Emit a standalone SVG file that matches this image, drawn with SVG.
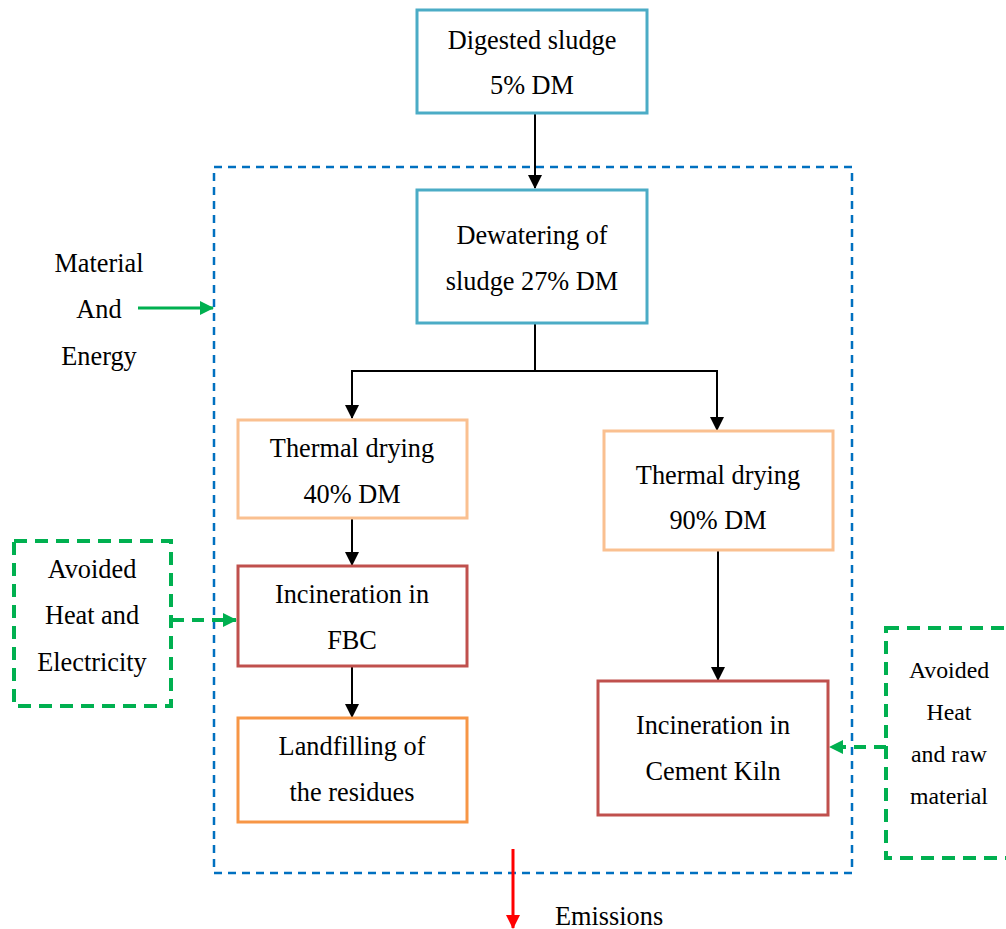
<svg xmlns="http://www.w3.org/2000/svg" width="1006" height="929" viewBox="0 0 1006 929">
  <defs>
    <marker id="ah-black-lg" markerWidth="14" markerHeight="14" refX="13" refY="7" orient="auto" markerUnits="userSpaceOnUse" viewBox="0 0 14 14">
      <path d="M0,0 L14,7 L0,14 z" fill="#000"/>
    </marker>
    <marker id="ah-green" markerWidth="14" markerHeight="14" refX="13" refY="7" orient="auto" markerUnits="userSpaceOnUse" viewBox="0 0 14 14">
      <path d="M0,0 L14,7 L0,14 z" fill="#00B050"/>
    </marker>
    <marker id="ah-red" markerWidth="14" markerHeight="14" refX="13" refY="7" orient="auto" markerUnits="userSpaceOnUse" viewBox="0 0 14 14">
      <path d="M0,0 L14,7 L0,14 z" fill="#FF0000"/>
    </marker>
  </defs>
  <style>
    text { font-family: "Liberation Serif", "Times New Roman", serif; font-size: 26.3px; fill: #000; text-anchor: middle; }
    .small { font-size: 23.8px; }
    .box { fill: #fff; stroke-width: 3; }
    .blue { stroke: #4BACC6; }
    .peach { stroke: #FAC090; }
    .red { stroke: #C0504D; }
    .orange { stroke: #F79646; }
    .green-box { fill: none; stroke: #00B050; stroke-width: 4; stroke-dasharray: 13 8; }
    .boundary { fill: none; stroke: #0070C0; stroke-width: 2.5; stroke-dasharray: 8 6; }
    .flow { fill: none; stroke: #000; stroke-width: 2; }
  </style>
  <rect width="1006" height="929" fill="#fff"/>

  <!-- system boundary -->
  <rect id="boundary" class="boundary" x="214" y="167" width="638" height="706"/>

  <g id="connectors">
    <line class="flow" x1="535" y1="114" x2="535" y2="188" marker-end="url(#ah-black-lg)"/>
    <polyline class="flow" points="535,324 535,371 352,371 352,418" marker-end="url(#ah-black-lg)"/>
    <polyline class="flow" points="535,371 717,371 717,430" marker-end="url(#ah-black-lg)"/>
    <line class="flow" x1="352" y1="519" x2="352" y2="565" marker-end="url(#ah-black-lg)"/>
    <line class="flow" x1="352" y1="667" x2="352" y2="717" marker-end="url(#ah-black-lg)"/>
    <line class="flow" x1="718" y1="551" x2="718" y2="680" marker-end="url(#ah-black-lg)"/>
    <line x1="138" y1="308" x2="213" y2="308" stroke="#00B050" stroke-width="3" marker-end="url(#ah-green)"/>
    <line x1="172" y1="620" x2="236" y2="620" stroke="#00B050" stroke-width="4" stroke-dasharray="12 8" marker-end="url(#ah-green)"/>
    <line x1="886" y1="747" x2="830" y2="747" stroke="#00B050" stroke-width="4" stroke-dasharray="12 8" marker-end="url(#ah-green)"/>
    <line x1="513" y1="849" x2="513" y2="928" stroke="#FF0000" stroke-width="3" marker-end="url(#ah-red)"/>
  </g>

  <g id="digested">
    <rect class="box blue" x="417" y="10" width="230" height="103"/>
    <text x="532" y="49">Digested sludge</text>
    <text x="532" y="94">5% DM</text>
  </g>

  <g id="dewatering">
    <rect class="box blue" x="417" y="190" width="230" height="133"/>
    <text x="532" y="244">Dewatering of</text>
    <text x="532" y="290">sludge 27% DM</text>
  </g>

  <g id="drying40">
    <rect class="box peach" x="238" y="420" width="229" height="98"/>
    <text x="352" y="457">Thermal drying</text>
    <text x="352" y="503">40% DM</text>
  </g>

  <g id="drying90">
    <rect class="box peach" x="604" y="431" width="229" height="119"/>
    <text x="718" y="484">Thermal drying</text>
    <text x="718" y="529">90% DM</text>
  </g>

  <g id="fbc">
    <rect class="box red" x="238" y="566" width="229" height="100"/>
    <text x="352" y="603">Incineration in</text>
    <text x="352" y="649">FBC</text>
  </g>

  <g id="landfill">
    <rect class="box orange" x="238" y="718" width="229" height="104"/>
    <text x="352" y="755">Landfilling of</text>
    <text x="352" y="801">the residues</text>
  </g>

  <g id="kiln">
    <rect class="box red" x="598" y="681" width="230" height="134"/>
    <text x="713" y="734">Incineration in</text>
    <text x="713" y="780">Cement Kiln</text>
  </g>

  <g id="avoided-left">
    <rect class="green-box" x="14" y="541" width="157" height="165"/>
    <text x="92" y="578">Avoided</text>
    <text x="92" y="624">Heat and</text>
    <text x="92" y="671">Electricity</text>
  </g>

  <g id="avoided-right">
    <rect class="green-box" x="886" y="628" width="140" height="230"/>
    <text class="small" x="949" y="678">Avoided</text>
    <text class="small" x="949" y="720">Heat</text>
    <text class="small" x="949" y="762">and raw</text>
    <text class="small" x="949" y="804">material</text>
  </g>

  <g id="inputs">
    <text x="99" y="272">Material</text>
    <text x="99" y="318">And</text>
    <text x="99" y="365">Energy</text>
  </g>

  <g id="emissions">
    <text x="555" y="925" style="text-anchor:start">Emissions</text>
  </g>
</svg>
